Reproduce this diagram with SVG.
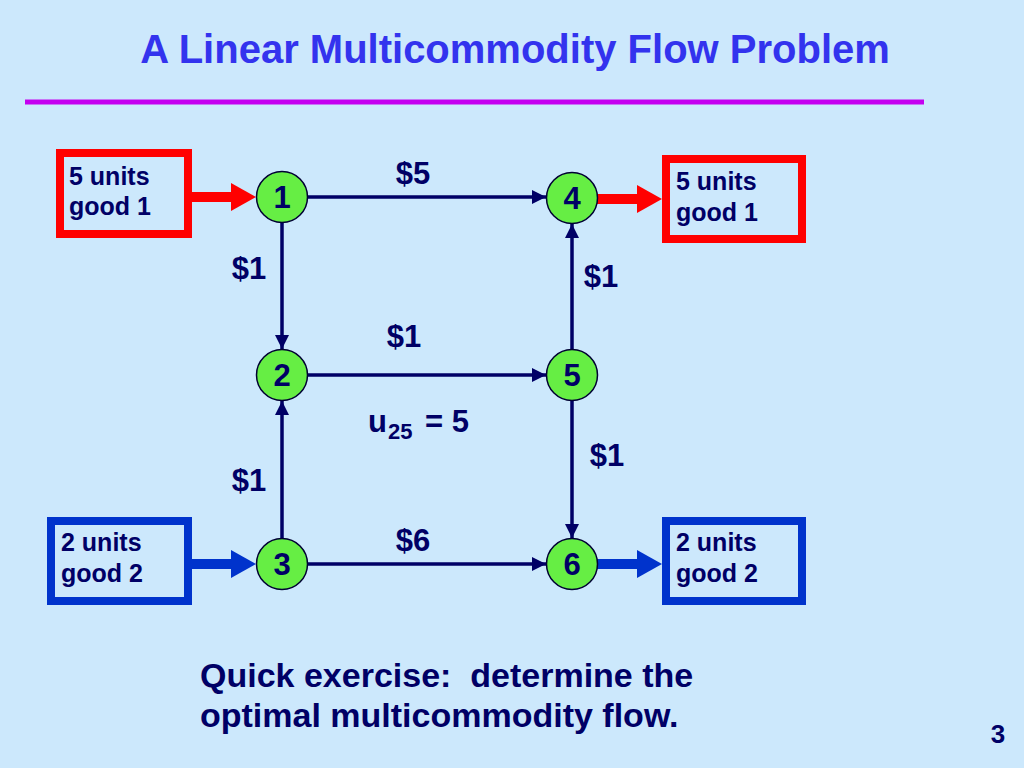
<svg xmlns="http://www.w3.org/2000/svg" width="1024" height="768" viewBox="0 0 1024 768">
<defs>
<marker id="ah" viewBox="0 0 10 10" refX="10" refY="5" markerWidth="4" markerHeight="4" orient="auto" markerUnits="strokeWidth"><path d="M0,0 L10,5 L0,10 z" fill="#000066"/></marker>
<style>
.bg{fill:#cce8fc}
.t{font-family:"Liberation Sans",Arial,sans-serif;font-weight:bold;white-space:pre}
.lbl{font-size:31px;fill:#000066}
.box{font-size:25px;fill:#000066}
.node circle{fill:#66ee44;stroke:#000033;stroke-width:1.5}
.node text{font-family:"Liberation Sans",Arial,sans-serif;font-weight:bold;font-size:31px;fill:#000066;text-anchor:middle}
.edge{stroke:#000066;stroke-width:3.5;fill:none;marker-end:url(#ah)}
</style>
</defs>
<rect class="bg" x="0" y="0" width="1024" height="768"/>
<text class="t" x="515" y="63" font-size="40" fill="#3333ee" text-anchor="middle">A Linear Multicommodity Flow Problem</text>
<line x1="25" y1="102" x2="924" y2="102" stroke="#c400f0" stroke-width="5"/>

<g id="src1">
<rect x="60" y="153" width="128" height="81" fill="none" stroke="#ff0000" stroke-width="8"/>
<text class="t box" x="69" y="185">5 units</text>
<text class="t box" x="69" y="215">good 1</text>
</g>
<g id="snk1">
<rect x="666" y="159" width="136" height="80" fill="none" stroke="#ff0000" stroke-width="8"/>
<text class="t box" x="676" y="190">5 units</text>
<text class="t box" x="676" y="221">good 1</text>
</g>
<g id="src2">
<rect x="51" y="521" width="137" height="80" fill="none" stroke="#0033cc" stroke-width="8"/>
<text class="t box" x="61" y="551">2 units</text>
<text class="t box" x="61" y="582">good 2</text>
</g>
<g id="snk2">
<rect x="666" y="521" width="136" height="80" fill="none" stroke="#0033cc" stroke-width="8"/>
<text class="t box" x="676" y="551">2 units</text>
<text class="t box" x="676" y="582">good 2</text>
</g>

<g id="connectors">
<line x1="192" y1="197" x2="234" y2="197" stroke="#ff0000" stroke-width="10"/>
<polygon points="231,183 256,197 231,211" fill="#ff0000"/>
<line x1="597" y1="199" x2="640" y2="199" stroke="#ff0000" stroke-width="10"/>
<polygon points="637,185 662,199 637,213" fill="#ff0000"/>
<line x1="192" y1="564" x2="234" y2="564" stroke="#0033cc" stroke-width="10"/>
<polygon points="231,550 256,564 231,578" fill="#0033cc"/>
<line x1="597" y1="564" x2="640" y2="564" stroke="#0033cc" stroke-width="10"/>
<polygon points="637,550 662,564 637,578" fill="#0033cc"/>

<line class="edge" x1="307" y1="197" x2="546" y2="197"/>
<line class="edge" x1="282" y1="222" x2="282" y2="349"/>
<line class="edge" x1="308" y1="375" x2="546" y2="375"/>
<line class="edge" x1="282" y1="538" x2="282" y2="401"/>
<line class="edge" x1="308" y1="564" x2="546" y2="564"/>
<line class="edge" x1="572" y1="349" x2="572" y2="224"/>
<line class="edge" x1="572" y1="401" x2="572" y2="538"/>

<text class="t lbl" x="413" y="184" text-anchor="middle" font-size="32">$5</text>
<text class="t lbl" x="249" y="279" text-anchor="middle">$1</text>
<text class="t lbl" x="404" y="347" text-anchor="middle">$1</text>
<text class="t lbl" x="601" y="287" text-anchor="middle">$1</text>
<text class="t lbl" x="607" y="466" text-anchor="middle">$1</text>
<text class="t lbl" x="249" y="491" text-anchor="middle">$1</text>
<text class="t lbl" x="413" y="551" text-anchor="middle" font-size="32">$6</text>
<text class="t lbl" x="368" y="432" font-size="32">u<tspan font-size="22" dx="1" dy="7">25</tspan><tspan dx="4" dy="-7"> = 5</tspan></text>
</g>

<g id="n1" class="node"><circle cx="282" cy="197" r="25.5"/><text x="282" y="208">1</text></g>
<g id="n2" class="node"><circle cx="282" cy="375" r="25.5"/><text x="282" y="386">2</text></g>
<g id="n3" class="node"><circle cx="282" cy="564" r="25.5"/><text x="282" y="575">3</text></g>
<g id="n4" class="node"><circle cx="572" cy="198" r="25.5"/><text x="572" y="209">4</text></g>
<g id="n5" class="node"><circle cx="572" cy="375" r="25.5"/><text x="572" y="386">5</text></g>
<g id="n6" class="node"><circle cx="572" cy="564" r="25.5"/><text x="572" y="575">6</text></g>

<text class="t" x="200" y="687" font-size="34" fill="#000066" xml:space="preserve">Quick exercise:  determine the</text>
<text class="t" x="200" y="727" font-size="34" fill="#000066">optimal multicommodity flow.</text>
<text class="t" x="998" y="743" font-size="26" fill="#000066" text-anchor="middle">3</text>
</svg>
